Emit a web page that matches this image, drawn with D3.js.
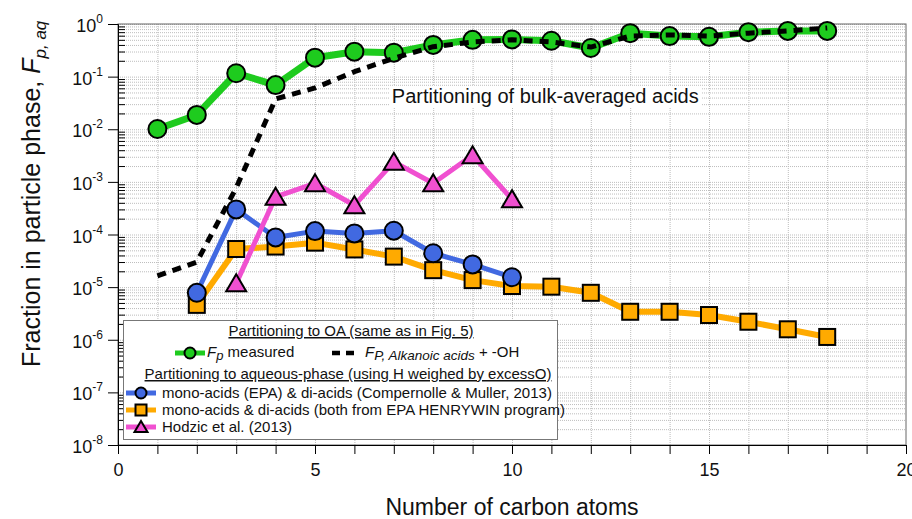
<!DOCTYPE html>
<html>
<head>
<meta charset="utf-8">
<script src="https://cdn.jsdelivr.net/npm/d3@7"></script>
<style>
  body { margin: 0; background: #fff; }
  svg { display: block; font-family: Arial, 'Liberation Sans', sans-serif; }
</style>
</head>
<body>
<svg id="chart"></svg>
<script>
// values
const carbon_fp = [1, 2, 3, 4, 5, 6, 7, 8, 9, 10, 11, 12, 13, 14, 15, 16, 17, 18];
const fp_measured = [0.0101, 0.0187, 0.116, 0.069, 0.229, 0.298, 0.285, 0.40, 0.50, 0.51, 0.48, 0.35, 0.67, 0.59, 0.57, 0.70, 0.74, 0.74];

const carbon_alk = [1, 2, 3, 4, 5, 6, 7, 8, 9, 10, 11, 12, 13, 14, 15, 16, 17, 18];
const fp_alkanoic = [1.63e-5, 3.0e-5, 7.7e-4, 0.0376, 0.061, 0.124, 0.223, 0.37, 0.455, 0.50, 0.455, 0.365, 0.59, 0.62, 0.59, 0.67, 0.74, 0.84];

const carbon_comp = [2, 3, 4, 5, 6, 7, 8, 9, 10];
const comp_muller = [7.8e-6, 3.0e-4, 8.8e-5, 1.16e-4, 1.05e-4, 1.18e-4, 4.4e-5, 2.7e-5, 1.54e-5];

const carbon_epa = [2, 3, 4, 5, 6, 7, 8, 9, 10, 11, 12, 13, 14, 15, 16, 17, 18];
const epa_henrywin = [4.6e-6, 5.3e-5, 5.9e-5, 7.0e-5, 5.2e-5, 3.8e-5, 2.1e-5, 1.36e-5, 1.05e-5, 1.02e-5, 7.8e-6, 3.4e-6, 3.4e-6, 2.95e-6, 2.2e-6, 1.58e-6, 1.13e-6];

const carbon_hodzic = [3, 4, 5, 6, 7, 8, 9, 10];
const hodzic = [1.18e-5, 5.2e-4, 9.4e-4, 3.6e-4, 2.4e-3, 9.4e-4, 3.2e-3, 4.7e-4];

const x_ticks = [0, 1, 2, 3, 4, 5, 6, 7, 8, 9, 10, 11, 12, 13, 14, 15, 16, 17, 18, 19, 20];
const x_labels = [0, 5, 10, 15, 20];
const y_exponents = [0, -1, -2, -3, -4, -5, -6, -7, -8];

const green = '#1ecb1e';
const blue = '#4169e1';
const orange = '#ffaa00';
const pink = '#f050d0';

const svg = d3.select('#chart')
  .attr('width', 912)
  .attr('height', 519);

const margin = { top: 24, right: 6, bottom: 74, left: 118 };
const width = +svg.attr('width') - margin.left - margin.right;
const height = +svg.attr('height') - margin.top - margin.bottom;

const xScale = d3.scaleLinear().domain([0, 20]).range([0, width]);
const yScale = d3.scaleLog().domain([1e-8, 1]).range([height, 0]);

const decades = y_exponents.map(e => Math.pow(10, e));
const minorVals = [];
decades.slice(1).forEach(d => { for (let k = 2; k <= 9; k++) minorVals.push(d * k); });

const g = svg.append('g')
  .attr('transform', `translate(${margin.left},${margin.top})`);

// grid
g.append('g')
  .attr('class', 'grid')
  .call(d3.axisLeft(yScale).tickValues(minorVals.concat(decades)).tickSize(-width).tickFormat(''))
  .call(s => s.select('.domain').remove())
  .selectAll('line')
  .attr('stroke', '#bdbdbd')
  .attr('stroke-dasharray', '1,1');

g.append('g')
  .attr('class', 'grid')
  .attr('transform', `translate(0,${height})`)
  .call(d3.axisBottom(xScale).tickValues(x_ticks.slice(1, -1)).tickSize(-height).tickFormat(''))
  .call(s => s.select('.domain').remove())
  .selectAll('line')
  .attr('stroke', '#bdbdbd')
  .attr('stroke-dasharray', '1,1');

// frame
g.append('rect')
  .attr('width', width)
  .attr('height', height)
  .attr('fill', 'none')
  .attr('stroke', '#666');

// label in the plot
g.append('rect')
  .attr('x', xScale(6.9))
  .attr('y', 62)
  .attr('width', 312)
  .attr('height', 22)
  .attr('fill', '#fff');

g.append('text')
  .attr('x', xScale(6.9) + 2)
  .attr('y', 79)
  .text('Partitioning of bulk-averaged acids')
  .style('font-size', '20px')
  .style('fill', '#111');

// series
const line = d3.line().x(d => xScale(d[0])).y(d => yScale(d[1]));
const zipped = (xs, ys) => xs.map((v, i) => [v, ys[i]]);

function drawLine(data, color, w, dash) {
  g.append('path')
    .datum(data)
    .attr('d', line)
    .attr('fill', 'none')
    .attr('stroke', color)
    .attr('stroke-width', w)
    .attr('stroke-linejoin', 'round')
    .attr('stroke-dasharray', dash || null);
}

function drawMarkers(data, shape, color) {
  const m = g.append('g').selectAll('.m')
    .data(data)
    .enter();
  if (shape === 'circle') {
    m.append('circle')
      .attr('cx', d => xScale(d[0]))
      .attr('cy', d => yScale(d[1]))
      .attr('r', 9)
      .attr('fill', color)
      .attr('stroke', '#000')
      .attr('stroke-width', 2);
  } else if (shape === 'square') {
    m.append('rect')
      .attr('x', d => xScale(d[0]) - 8)
      .attr('y', d => yScale(d[1]) - 8)
      .attr('width', 16)
      .attr('height', 16)
      .attr('fill', color)
      .attr('stroke', '#000')
      .attr('stroke-width', 2);
  } else {
    m.append('path')
      .attr('d', 'M0,-9 L10,8 L-10,8 Z')
      .attr('transform', d => `translate(${xScale(d[0])},${yScale(d[1])})`)
      .attr('fill', color)
      .attr('stroke', '#000')
      .attr('stroke-width', 2)
      .attr('stroke-linejoin', 'miter');
  }
}

const epa = zipped(carbon_epa, epa_henrywin);
drawLine(epa, orange, 6);
drawMarkers(epa, 'square', orange);

const comp = zipped(carbon_comp, comp_muller);
drawLine(comp, blue, 5);
drawMarkers(comp, 'circle', blue);

const hod = zipped(carbon_hodzic, hodzic);
drawLine(hod, pink, 5);
drawMarkers(hod, 'triangle', pink);

const fp = zipped(carbon_fp, fp_measured);
drawLine(fp, green, 7);
drawMarkers(fp, 'circle', green);

drawLine(zipped(carbon_alk, fp_alkanoic), '#000', 5, '9,7');

// axes
g.append('g')
  .attr('transform', `translate(0,${height})`)
  .call(d3.axisBottom(xScale).tickValues(x_ticks).tickSize(9).tickFormat(d => x_labels.includes(d) ? d : ''))
  .call(s => s.select('.domain').attr('stroke', '#000'))
  .call(s => s.selectAll('text').attr('dy', '1.05em').style('font-size', '18px').style('fill', '#111').style('font-family', 'Arial, Liberation Sans, sans-serif'));

g.append('g')
  .call(d3.axisLeft(yScale).tickValues(decades).tickSize(10).tickFormat(''))
  .call(s => s.select('.domain').attr('stroke', '#000'));

g.append('g')
  .call(d3.axisRight(yScale).tickValues(minorVals).tickSize(7).tickFormat(''))
  .call(s => s.select('.domain').remove());

const yLabels = g.append('g').selectAll('.ylab')
  .data(y_exponents)
  .enter()
  .append('text')
  .attr('x', -15)
  .attr('y', d => yScale(Math.pow(10, d)) + 8)
  .attr('text-anchor', 'end')
  .style('fill', '#111');
yLabels.append('tspan').text('10').style('font-size', '18px');
yLabels.append('tspan').attr('dy', -9).text(d => d === 0 ? '0' : '-' + Math.abs(d)).style('font-size', '12px');

// axis titles
svg.append('text')
  .attr('x', margin.left + width / 2)
  .attr('y', 515)
  .attr('text-anchor', 'middle')
  .text('Number of carbon atoms')
  .style('font-size', '23px')
  .style('fill', '#111');

const yTitle = svg.append('text')
  .attr('transform', 'translate(40,367) rotate(-90)')
  .style('font-size', '25px')
  .style('fill', '#111');
yTitle.append('tspan').text('Fraction in particle phase, ');
yTitle.append('tspan').text('F').style('font-style', 'italic');
yTitle.append('tspan').attr('dy', 6).text('p, aq').style('font-style', 'italic').style('font-size', '17px');

// legend
const lg = svg.append('g').style('font-size', '15px').style('fill', '#111');
lg.append('rect')
  .attr('x', 123.5).attr('y', 320.5)
  .attr('width', 434).attr('height', 119)
  .attr('fill', '#fff')
  .attr('stroke', '#777');

lg.append('text')
  .attr('x', 351).attr('y', 336)
  .attr('text-anchor', 'middle')
  .style('text-decoration', 'underline')
  .text('Partitioning to OA (same as in Fig. 5)');

lg.append('text')
  .attr('x', 348).attr('y', 379)
  .attr('text-anchor', 'middle')
  .style('text-decoration', 'underline')
  .text('Partitioning to aqueous-phase (using H weighed by excessO)');

function legendSymbol(cx, cy, color, shape) {
  lg.append('line')
    .attr('x1', cx - 15).attr('x2', cx + 15)
    .attr('y1', cy).attr('y2', cy)
    .attr('stroke', color)
    .attr('stroke-width', 5);
  if (shape === 'circle') {
    lg.append('circle').attr('cx', cx).attr('cy', cy).attr('r', 5.5)
      .attr('fill', color).attr('stroke', '#000').attr('stroke-width', 2);
  } else if (shape === 'square') {
    lg.append('rect').attr('x', cx - 5.5).attr('y', cy - 5.5).attr('width', 11).attr('height', 11)
      .attr('fill', color).attr('stroke', '#000').attr('stroke-width', 2);
  } else {
    lg.append('path').attr('d', 'M0,-6 L6.5,5 L-6.5,5 Z')
      .attr('transform', `translate(${cx},${cy})`)
      .attr('fill', color).attr('stroke', '#000').attr('stroke-width', 2);
  }
}

legendSymbol(190, 353, green, 'circle');
const t1 = lg.append('text').attr('x', 207).attr('y', 357);
t1.append('tspan').text('F').style('font-style', 'italic');
t1.append('tspan').attr('dy', 3).text('p').style('font-style', 'italic').style('font-size', '13px');
t1.append('tspan').attr('dy', -3).text(' measured');

lg.append('line')
  .attr('x1', 332).attr('x2', 354)
  .attr('y1', 353).attr('y2', 353)
  .attr('stroke', '#000')
  .attr('stroke-width', 4.5)
  .attr('stroke-dasharray', '8,6');
const t2 = lg.append('text').attr('x', 365).attr('y', 357);
t2.append('tspan').text('F').style('font-style', 'italic');
t2.append('tspan').attr('dy', 3).text('P, Alkanoic acids').style('font-style', 'italic').style('font-size', '13.5px');
t2.append('tspan').attr('dy', -3).text(' + -OH');

legendSymbol(141, 393, blue, 'circle');
lg.append('text').attr('x', 162).attr('y', 398).text('mono-acids (EPA) & di-acids (Compernolle & Muller, 2013)');

legendSymbol(141, 410, orange, 'square');
lg.append('text').attr('x', 162).attr('y', 415).text('mono-acids & di-acids (both from EPA HENRYWIN program)');

legendSymbol(141, 427, pink, 'triangle');
lg.append('text').attr('x', 162).attr('y', 432).text('Hodzic et al. (2013)');
</script>
</body>
</html>
